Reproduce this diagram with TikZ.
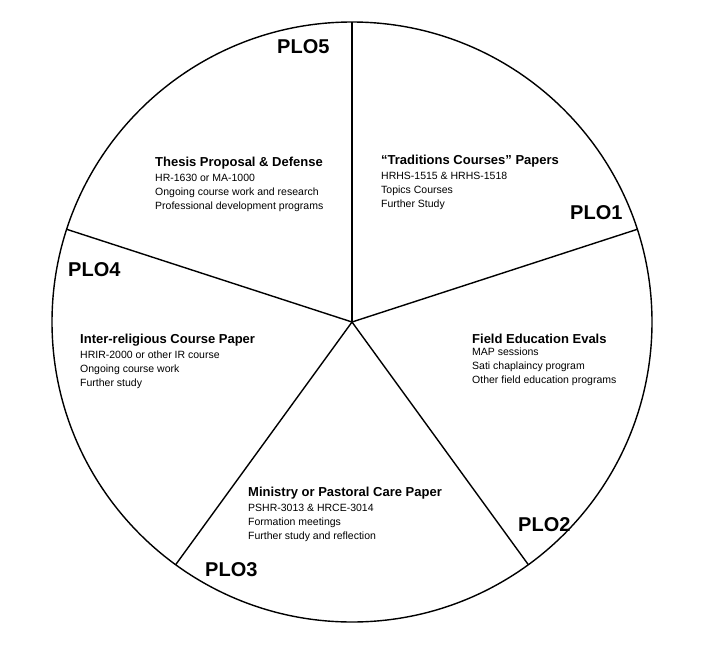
\documentclass[tikz,border=0pt]{standalone}
\usepackage{fontspec}
\setmainfont{Liberation Sans}
\usetikzlibrary{positioning}

\tikzset{
  plo/.style={anchor=north west, inner sep=0pt, font=\bfseries\fontsize{20}{22}\selectfont},
  ptitle/.style={anchor=north west, inner sep=0pt, font=\bfseries\fontsize{13}{15}\selectfont},
  pbody/.style={anchor=north west, inner sep=0pt, align=left, font=\fontsize{10.5}{14}\selectfont},
}

\begin{document}
\begin{tikzpicture}[x=1pt,y=-1pt]
    \useasboundingbox (0,0) rectangle (720,645);
    \coordinate (o) at (352,322);
    \draw[line width=1.4pt] (o) circle[radius=300];
    % spokes
    \foreach \a in {90,18,-54,-126,162}
        \draw[line width=1.4pt] (o) -- ++(\a:300 and -300);

    % sector labels
    \node[plo] (p5) at (277,39) {PLO5};
    \node[plo] (p1) at (570,205) {PLO1};
    \node[plo] (p4) at (68,262) {PLO4};
    \node[plo] (p2) at (518,517) {PLO2};
    \node[plo] (p3) at (205,562) {PLO3};

    % thesis
    \node[ptitle] (t5) at (155,157) {Thesis Proposal \& Defense};
    \node[pbody, below=2pt of t5.south west, anchor=north west] (b5) {\strut HR-1630 or MA-1000\\Ongoing course work and research\\Professional development programs};
    % traditions
    \node[ptitle] (t1) at (381,155) {“Traditions Courses” Papers};
    \node[pbody, below=2pt of t1.south west, anchor=north west] (b1) {\strut HRHS-1515 \& HRHS-1518\\Topics Courses\\Further Study};
    % inter-religious
    \node[ptitle] (t4) at (80,334) {Inter-religious Course Paper};
    \node[pbody, below=2pt of t4.south west, anchor=north west] (b4) {\strut HRIR-2000 or other IR course\\Ongoing course work\\Further study};
    % field education
    \node[ptitle] (t2) at (472,334) {Field Education Evals};
    \node[pbody, below=2pt of t2.south west, anchor=north west] (b2) {\strut MAP sessions\\Sati chaplaincy program\\Other field education programs};
    % ministry
    \node[ptitle] (t3) at (248,487) {Ministry or Pastoral Care Paper};
    \node[pbody, below=2pt of t3.south west, anchor=north west] (b3) {\strut PSHR-3013 \& HRCE-3014\\Formation meetings\\Further study and reflection};
\end{tikzpicture}
\end{document}
